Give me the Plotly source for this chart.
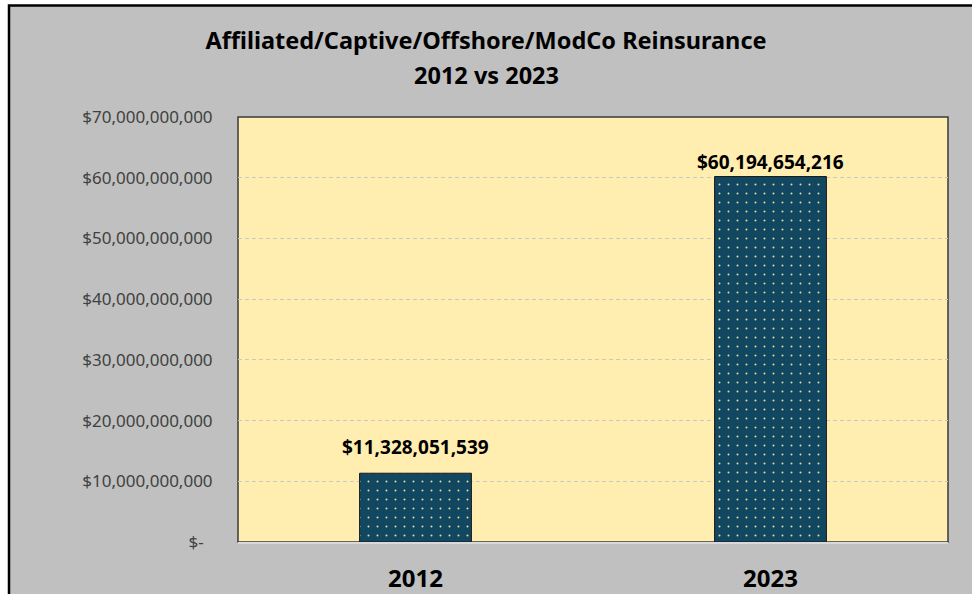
import plotly.graph_objects as go

# Data
years = ["2012", "2023"]
amounts = [11328051539, 60194654216]
tick_vals = [0, 10e9, 20e9, 30e9, 40e9, 50e9, 60e9, 70e9]
tick_text = ["$-\u00a0\u00a0", "$10,000,000,000", "$20,000,000,000", "$30,000,000,000",
             "$40,000,000,000", "$50,000,000,000", "$60,000,000,000", "$70,000,000,000"]
bar_labels = [f"${v:,.0f}" for v in amounts]

# label offsets above the bar tops (px), as placed in the original chart
label_gap = [26, 15]

FONT = "Noto Sans"
BAR = "#114760"

# plot area in page pixels
L, R, T, B = 238, 24, 117, 52
PW, PH = 972 - L - R, 594 - T - B

fig = go.Figure()
fig.add_trace(go.Bar(
    x=years, y=amounts,
    width=0.315,
    marker=dict(
        color=BAR,
        line=dict(color="#1a1a1a", width=1),
        pattern=dict(shape=".", fgcolor="#e3dca0", bgcolor=BAR,
                     size=9, solidity=0.04, fillmode="replace"),
    ),
))

# value labels (category index as x so the axis range is not stretched)
for i, (v, lab, gap) in enumerate(zip(amounts, bar_labels, label_gap)):
    fig.add_annotation(x=i, y=v, text=lab, showarrow=False,
                       yanchor="middle", yshift=gap,
                       font=dict(family=FONT, size=19, color="#000000", weight="bold"))

# second title line
fig.add_annotation(text="2012 vs 2023", showarrow=False,
                   xref="paper", yref="paper",
                   x=(486 - L) / PW, y=1 + (T - 75) / PH,
                   xanchor="center", yanchor="middle",
                   font=dict(family=FONT, size=23.5, color="#000000", weight="bold"))

fig.update_layout(
    width=972, height=594,
    margin=dict(l=L, r=R, t=T, b=B, autoexpand=False),
    paper_bgcolor="#ffffff",
    plot_bgcolor="rgba(0,0,0,0)",
    showlegend=False,
    title=dict(
        text="Affiliated/Captive/Offshore/ModCo Reinsurance",
        x=0.5, xref="container", xanchor="center",
        y=1 - 41 / 594, yref="container", yanchor="middle",
        font=dict(family=FONT, size=23.5, color="#000000", weight="bold"),
    ),
    shapes=[
        # outer gray frame
        dict(type="rect", xref="paper", yref="paper",
             x0=-(L - 9) / PW, x1=1.2, y0=-0.5, y1=1 + (T - 5.5) / PH,
             fillcolor="#c0c0c0", line=dict(color="#000000", width=2.5),
             layer="below"),
        # plot area
        dict(type="rect", xref="x domain", yref="y domain",
             x0=0, x1=1, y0=0, y1=1,
             fillcolor="#ffeeb0", line=dict(color="#3a3a3a", width=1.5),
             layer="below"),
    ],
)

fig.update_yaxes(
    range=[0, 70e9], automargin=False,
    tickvals=tick_vals, ticktext=tick_text,
    tickfont=dict(family=FONT, size=17, color="#404040"),
    ticks="outside", ticklen=21, tickcolor="rgba(0,0,0,0)",
    showgrid=True, gridcolor="#c8c8c8", griddash="4px,3px", gridwidth=1,
    zeroline=False, showline=False,
)
fig.update_xaxes(
    type="category", range=[-0.5, 1.5], automargin=False,
    tickfont=dict(family=FONT, size=24, color="#000000", weight="bold"),
    ticks="outside", ticklen=14, tickcolor="rgba(0,0,0,0)",
    showline=True, linecolor="#d9d9d9", linewidth=1.5,
    showgrid=False,
)

# drop the browser's default body margin so the figure fills the window exactly
fig.write_html("out.html", config={"displayModeBar": False},
               post_script="document.body.style.margin = '0';")
